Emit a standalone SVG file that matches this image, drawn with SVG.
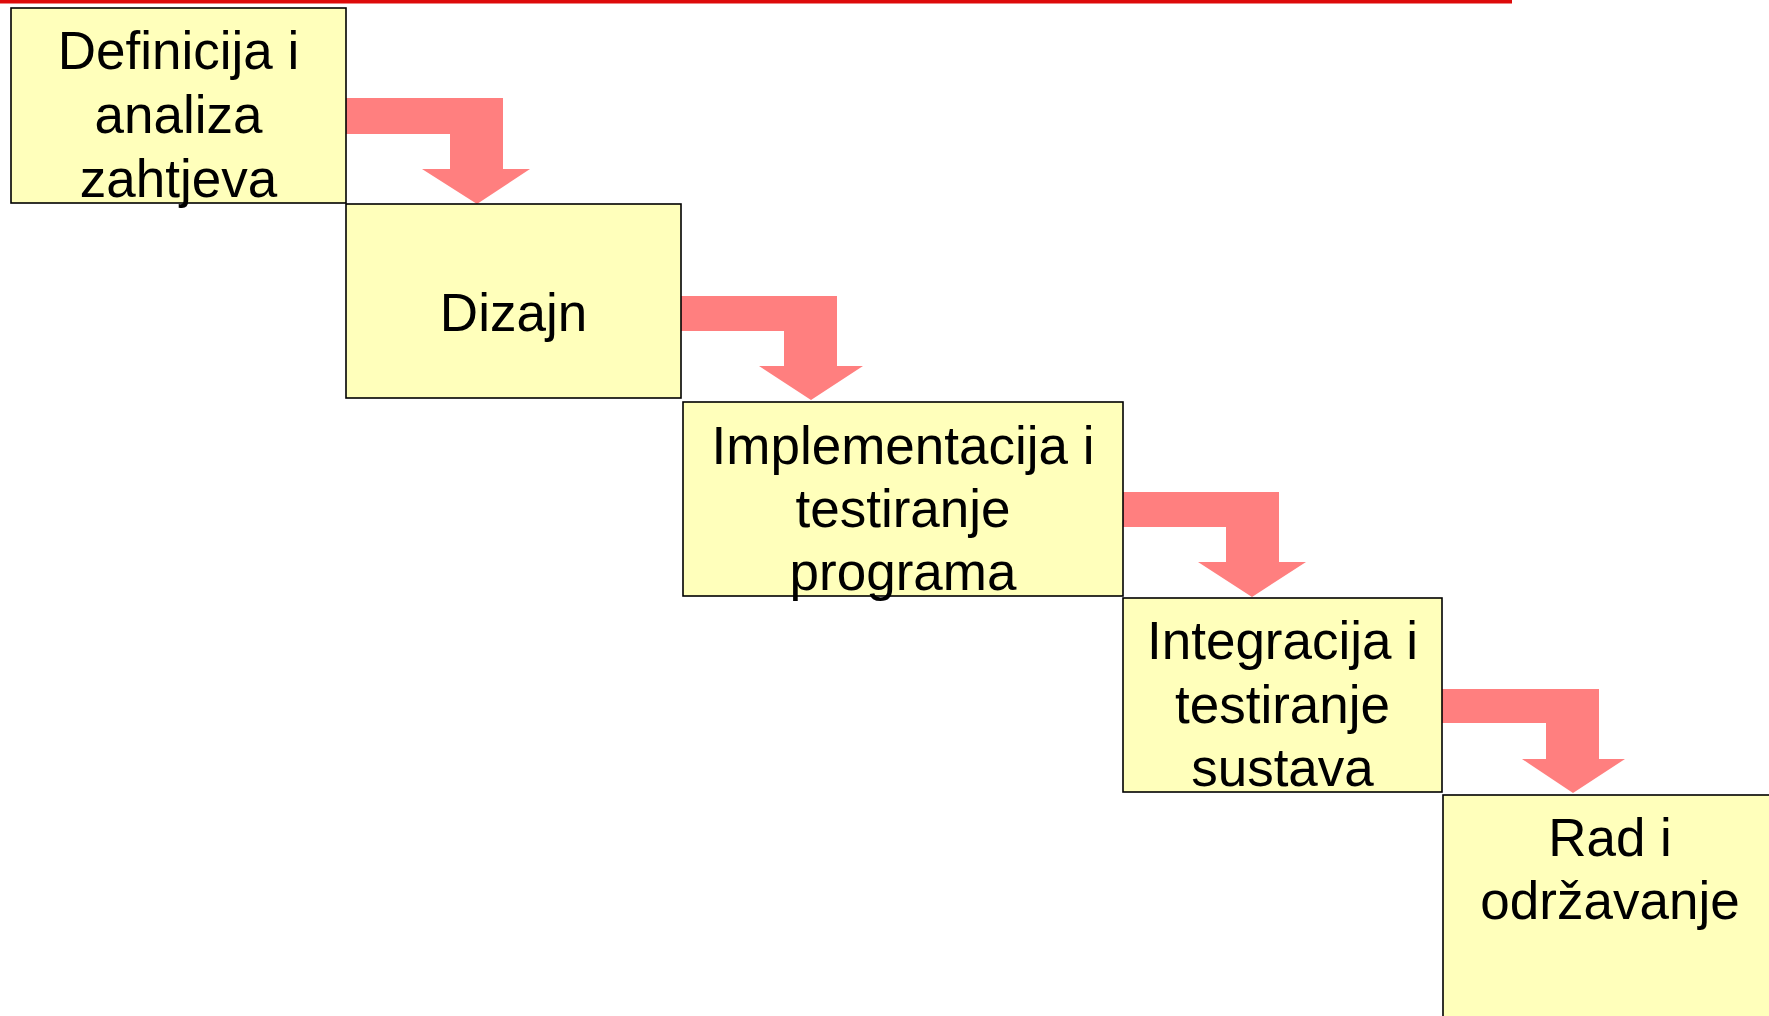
<svg xmlns="http://www.w3.org/2000/svg" width="1769" height="1016" viewBox="0 0 1769 1016">
  <style>
    .box { fill: #FFFFBB; stroke: #000000; stroke-width: 1.6; }
    .lbl { font-family: "Liberation Sans", Arial, sans-serif; font-size: 53px; fill: #000000; text-anchor: middle; }
    .flow { fill: #FF7F7F; stroke: none; }
  </style>

  <!-- top rule -->
  <rect x="0" y="0" width="1512" height="3.5" fill="#DD0A0A"/>

  <!-- step arrows: horizontal bar, bend down, triangular head -->
  <g id="connectors">
    <path class="flow" d="M346,98 H503 V169 H530 L477,204 L422,169 H450 V134 H346 Z"/>
    <path class="flow" d="M681,296 H837 V366 H863 L811,400 L759,366 H784 V331 H681 Z"/>
    <path class="flow" d="M1123,492 H1279 V562 H1306 L1252,597 L1198,562 H1226 V527 H1123 Z"/>
    <path class="flow" d="M1442,689 H1599 V759 H1625 L1573,793 L1522,759 H1546 V723 H1442 Z"/>
  </g>

  <g id="definicija">
    <rect class="box" x="11" y="8" width="335" height="195"/>
    <text class="lbl" x="178.5" y="69">Definicija i</text>
    <text class="lbl" x="178.5" y="133">analiza</text>
    <text class="lbl" x="178.5" y="197">zahtjeva</text>
  </g>

  <g id="dizajn">
    <rect class="box" x="346" y="204" width="335" height="194"/>
    <text class="lbl" x="513.5" y="331">Dizajn</text>
  </g>

  <g id="implementacija">
    <rect class="box" x="683" y="402" width="440" height="194"/>
    <text class="lbl" x="903" y="464">Implementacija i</text>
    <text class="lbl" x="903" y="527">testiranje</text>
    <text class="lbl" x="903" y="590">programa</text>
  </g>

  <g id="integracija">
    <rect class="box" x="1123" y="598" width="319" height="194"/>
    <text class="lbl" x="1282.5" y="659">Integracija i</text>
    <text class="lbl" x="1282.5" y="723">testiranje</text>
    <text class="lbl" x="1282.5" y="786">sustava</text>
  </g>

  <g id="odrzavanje">
    <rect class="box" x="1443" y="795" width="340" height="240"/>
    <text class="lbl" x="1610" y="856">Rad i</text>
    <text class="lbl" x="1610" y="919">održavanje</text>
  </g>
</svg>
